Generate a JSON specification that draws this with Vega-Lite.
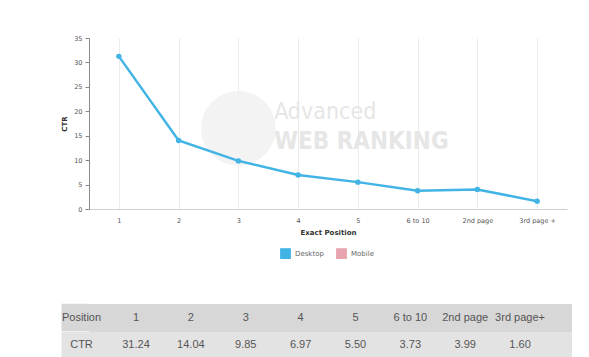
{
  "$schema": "https://vega.github.io/schema/vega-lite/v6.json",
  "background": "white",
  "padding": {"left": 47, "top": 35, "right": 0, "bottom": 0},
  "columns": 1,
  "spacing": 42,
  "align": "none",
  "bounds": "full",
  "resolve": {"scale": {"color": "independent"}, "legend": {"color": "independent"}},
  "datasets": {
    "ctr": [
      {"pos": "1", "ctr": 31.24, "device": "Desktop"},
      {"pos": "2", "ctr": 14.04, "device": "Desktop"},
      {"pos": "3", "ctr": 9.85, "device": "Desktop"},
      {"pos": "4", "ctr": 6.97, "device": "Desktop"},
      {"pos": "5", "ctr": 5.5, "device": "Desktop"},
      {"pos": "6 to 10", "ctr": 3.73, "device": "Desktop"},
      {"pos": "2nd page", "ctr": 3.99, "device": "Desktop"},
      {"pos": "3rd page +", "ctr": 1.6, "device": "Desktop"}
    ],
    "table": [
      {"col": "c1", "head": "1", "val": "31.24"},
      {"col": "c2", "head": "2", "val": "14.04"},
      {"col": "c3", "head": "3", "val": "9.85"},
      {"col": "c4", "head": "4", "val": "6.97"},
      {"col": "c5", "head": "5", "val": "5.50"},
      {"col": "c6", "head": "6 to 10", "val": "3.73"},
      {"col": "c7", "head": "2nd page", "val": "3.99"},
      {"col": "c8", "head": "3rd page+", "val": "1.60"}
    ]
  },
  "concat": [
    {
      "width": 478,
      "height": 171,
      "layer": [
        {
          "data": {"values": [{}]},
          "mark": {"type": "point", "filled": true, "color": "#f3f3f3", "opacity": 1, "size": 5600},
          "encoding": {
            "x": {
              "datum": "3", "type": "ordinal",
              "scale": {"type": "point", "padding": 0.5, "domain": ["1", "2", "3", "4", "5", "6 to 10", "2nd page", "3rd page +"]},
              "axis": {"title": "Exact Position", "labelAngle": 0, "ticks": false, "grid": true, "labelPadding": 8, "titlePadding": 5, "domainColor": "#cfcfcf"}
            },
            "y": {
              "datum": 16.5, "type": "quantitative",
              "scale": {"domain": [0, 35]},
              "axis": {"title": "CTR", "values": [0, 5, 10, 15, 20, 25, 30, 35], "tickCount": 8, "tickSize": 4, "domainColor": "#888888", "tickColor": "#888888", "labelPadding": 3, "titlePadding": 6}
            }
          }
        },
        {
          "data": {"values": [{}]},
          "mark": {"type": "text", "text": "Advanced", "font": "DejaVu Sans Condensed", "fontSize": 23, "color": "#e6e6e6", "align": "left", "baseline": "middle", "dx": -24},
          "encoding": {
            "x": {"datum": "4", "type": "ordinal"},
            "y": {"datum": 19.8, "type": "quantitative"}
          }
        },
        {
          "data": {"values": [{}]},
          "mark": {"type": "text", "text": "WEB RANKING", "font": "DejaVu Sans Condensed", "fontSize": 24, "fontWeight": "bold", "color": "#e6e6e6", "align": "left", "baseline": "middle", "dx": -24},
          "encoding": {
            "x": {"datum": "4", "type": "ordinal"},
            "y": {"datum": 13.7, "type": "quantitative"}
          }
        },
        {
          "data": {"name": "ctr"},
          "mark": {"type": "line", "strokeWidth": 2.5, "point": {"filled": true, "size": 30}},
          "encoding": {
            "x": {
              "field": "pos", "type": "ordinal",
              "axis": {"title": "Exact Position", "labelAngle": 0, "ticks": false, "grid": true, "labelPadding": 8, "titlePadding": 5, "domainColor": "#cfcfcf"}
            },
            "y": {
              "field": "ctr", "type": "quantitative",
              "axis": {"title": "CTR", "values": [0, 5, 10, 15, 20, 25, 30, 35], "tickCount": 8, "tickSize": 4, "domainColor": "#888888", "tickColor": "#888888", "labelPadding": 3, "titlePadding": 6}
            },
            "color": {
              "field": "device", "type": "nominal",
              "scale": {"domain": ["Desktop", "Mobile"], "range": ["#41b4e5", "#e8a4ae"]},
              "legend": {
                "title": null, "orient": "none", "legendX": 191, "legendY": 210, "direction": "horizontal",
                "symbolType": "square", "symbolSize": 90, "symbolStrokeWidth": 1.3,
                "labelFontSize": 7, "labelColor": "#666666", "labelFont": "DejaVu Sans", "columnPadding": 10,
                "encode": {"symbols": {"update": {"fill": {"value": "#ffffff"}}}}
              }
            }
          }
        }
      ]
    },
    {
      "width": 483,
      "height": 55,
      "view": {"fill": "#e3e3e3", "stroke": null},
      "data": {"name": "table"},
      "encoding": {
        "x": {"field": "col", "type": "nominal", "scale": {"type": "point", "padding": 0.902, "align": 0.475}, "axis": null},
        "y": {
          "datum": "Position", "type": "nominal",
          "scale": {"type": "band", "domain": ["Position", "CTR"], "paddingInner": 0, "paddingOuter": 0},
          "axis": {
            "title": null, "domain": false, "grid": false, "zindex": 1,
            "tickSize": 28, "tickWidth": 27.5, "tickBand": "center",
            "tickColor": {"condition": {"test": "datum.value === 'Position'", "value": "#d7d7d7"}, "value": "#e3e3e3"},
            "labelFont": "Liberation Sans", "labelFontSize": 11, "labelColor": "#555555", "labelLimit": 0,
            "labelAlign": "center", "labelBaseline": "middle", "labelPadding": -20
          }
        }
      },
      "layer": [
        {
          "mark": {"type": "rect", "color": "#d7d7d7"},
          "encoding": {"x": null}
        },
        {
          "mark": {"type": "text", "font": "Liberation Sans", "fontSize": 11, "color": "#555555"},
          "encoding": {
            "text": {"field": "head"}
          }
        },
        {
          "mark": {"type": "text", "font": "Liberation Sans", "fontSize": 11, "color": "#555555"},
          "encoding": {
            "y": {"datum": "CTR", "type": "nominal"},
            "text": {"field": "val"}
          }
        }
      ]
    }
  ],
  "config": {
    "view": {"stroke": null},
    "axis": {"labelFont": "DejaVu Sans", "labelFontSize": 6.5, "labelColor": "#555555", "titleFont": "DejaVu Sans", "titleFontSize": 7, "titleFontWeight": "bold", "titleColor": "#333333", "gridColor": "#ebebeb"}
  }
}
